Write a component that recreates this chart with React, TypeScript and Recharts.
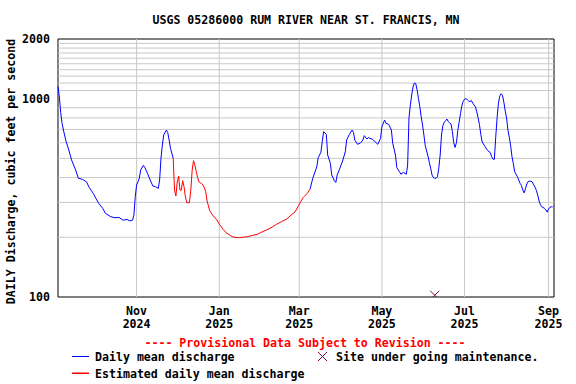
import React from 'react';
import { ComposedChart, Line, Scatter, XAxis, YAxis, ReferenceLine, ReferenceArea } from 'recharts';

// day 0 = 2024-09-04
const days = [
  0, 1, 2, 3, 4, 6, 8, 10, 13, 15, 18, 21, 23, 26, 28, 30, 33, 35, 39, 42, 45, 48, 51, 53, 55, 56, 57, 58, 59, 60,
  61, 63, 64, 66, 68, 70, 72, 74, 75, 76, 77, 78, 80, 81, 82, 83, 85,
  86, 87, 88, 89, 90, 91, 92, 93, 94, 95, 96, 97, 98, 99, 100, 101, 102, 103, 104, 105, 106, 107, 108, 109, 110,
  112, 114, 117, 119, 122, 124, 127, 129, 133, 136, 139, 143, 147, 150, 154, 158, 161, 165, 169, 172, 175, 177,
  179, 181, 182, 184, 186,
  188, 191, 192, 194, 195, 196, 198, 199, 201, 202, 204, 205, 206, 208, 210, 212, 213, 215, 217, 218, 219, 221,
  223, 225, 226, 228, 229, 232, 234, 236, 238, 239, 241, 242, 244, 246, 247, 249, 250, 252, 253, 255, 257, 258,
  259, 260, 261, 262, 263, 264, 265, 266, 267, 268, 269, 270, 271, 272, 273, 274, 275, 276, 277, 278, 279, 280,
  281, 282, 283, 284, 285, 286, 287, 288, 289, 290, 291, 292, 293, 294, 295, 296, 297, 298, 299, 300, 301, 302,
  303, 304, 305, 306, 307, 308, 309, 310, 311, 312, 313, 315, 317, 319, 320, 321, 322, 323, 324, 325, 326, 327,
  328, 329, 330, 331, 332, 333, 334, 335, 336, 337, 339, 341, 342, 343, 344, 345, 346, 347, 349, 350, 351, 352,
  353, 354, 355, 356, 357, 359, 360, 361, 362, 363, 364, 365,
];

const flow = [
  1150, 1020, 850, 751, 695, 607, 551, 491, 437, 397, 392, 381, 357, 333, 314, 297, 280, 264, 254, 251, 252, 244, 246, 242, 244, 259, 320, 367, 381, 397,
  437, 461, 451, 421, 389, 363, 360, 353, 389, 501, 584, 656, 695, 674, 619, 562, 501,
  346, 323, 381, 407, 346, 346, 386, 360, 320, 299, 299, 299, 346, 437, 487, 463, 430, 400, 381, 376, 374, 367, 355, 340, 305,
  272, 259, 246, 233, 219, 211, 205, 201, 199, 200, 201, 204, 207, 212, 218, 225, 232, 240, 248, 259, 269, 285,
  302, 318, 323, 333, 350,
  397, 454, 504, 537, 607, 682, 661, 520, 472, 412, 385, 378, 412, 446, 485, 540, 619, 661, 695, 677, 619, 589,
  596, 619, 651, 626, 636, 624, 607, 589, 631, 722, 781, 751, 743, 695, 596, 520, 449, 428, 416, 425, 416, 463,
  800, 930, 1044, 1149, 1200, 1190, 1106, 1000, 911, 811, 737, 656, 580, 545, 514, 477, 446, 412, 400, 397, 397, 404,
  446, 520, 656, 730, 760, 775, 790, 766, 755, 745, 682, 600, 568, 600, 690, 760, 840, 920, 970, 995, 1000, 990,
  975, 966, 980, 950, 930, 911, 860, 800, 740, 660, 605, 575, 548, 535, 510, 495, 495, 640, 800, 950, 1030, 1060,
  1040, 960, 870, 800, 695, 640, 580, 510, 470, 428, 404, 374, 365, 345, 335, 353, 372, 383, 384, 380, 368, 358,
  345, 326, 305, 292, 285, 280, 275, 268, 278, 283, 285, 285,
];

// estimated (red) stretch
const estStart = 85;
const estEnd = 186;

const maintenance = [{ day: 278, v: 102 }];

const tickDays = [58, 119, 178, 239, 300, 362];
const tickMonths = ['Nov', 'Jan', 'Mar', 'May', 'Jul', 'Sep'];
const tickYears = ['2024', '2025', '2025', '2025', '2025', '2025'];
const yTicks = [100, 1000, 2000];
const yGrid = [200, 300, 400, 500, 600, 700, 800, 900, 1100, 1200, 1300, 1400, 1500, 1600, 1700, 1800, 1900];

const data = days.map((d, i) => ({
  day: d,
  blue: d <= estStart || d >= estEnd ? flow[i] : null,
  red: d >= estStart && d <= estEnd ? flow[i] : null,
}));

const FONT = '"DejaVu Sans Mono", monospace';
const textStyle = { fontFamily: FONT, fontSize: 11.6, fontWeight: 'bold' as const };

const XTick = (props: any) => {
  const { x, y, payload } = props;
  const i = tickDays.indexOf(payload.value);
  return (
    <text x={x} y={y} textAnchor="middle" fill="#000" style={textStyle}>
      <tspan x={x} dy={17.5}>{tickMonths[i]}</tspan>
      <tspan x={x} dy={13}>{tickYears[i]}</tspan>
    </text>
  );
};

const YTick = (props: any) => {
  const { x, y, payload } = props;
  return (
    <text x={x - 8} y={y + 4} textAnchor="end" fill="#000" style={textStyle}>
      {payload.value}
    </text>
  );
};

const XMark = (props: any) => {
  const { cx, cy } = props;
  return (
    <g stroke="#800040" strokeWidth={1}>
      <line x1={cx - 4.5} y1={cy - 4.5} x2={cx + 4.5} y2={cy + 4.5} />
      <line x1={cx - 4.5} y1={cy + 4.5} x2={cx + 4.5} y2={cy - 4.5} />
    </g>
  );
};

const App: React.FC = () => {
  return (
    <div style={{ position: 'absolute', left: 0, top: 0, width: 576, height: 384, background: '#fff' }}>
      <ComposedChart width={576} height={384} data={data} margin={{ top: 39, right: 22, left: 18, bottom: 47 }}>
        <XAxis
          dataKey="day"
          type="number"
          domain={[0, 366]}
          ticks={tickDays}
          tick={<XTick />}
          tickLine={false}
          axisLine={false}
          tickSize={0}
          tickMargin={0}
          height={40}
          interval={0}
        />
        <YAxis
          type="number"
          scale="log"
          domain={[100, 2000]}
          ticks={yTicks}
          tick={<YTick />}
          tickLine={false}
          axisLine={false}
          tickSize={0}
          tickMargin={0}
          width={40}
          allowDataOverflow
          interval={0}
        />
        {yGrid.map((v) => (
          <ReferenceLine key={'h' + v} y={v} stroke="#c8c8c8" strokeWidth={1} />
        ))}
        {tickDays.map((d) => (
          <ReferenceLine key={'v' + d} x={d} stroke="#c8c8c8" strokeWidth={1} />
        ))}
        <Line type="linear" dataKey="blue" stroke="#0000ff" strokeWidth={1} dot={false} isAnimationActive={false} />
        <Line type="linear" dataKey="red" stroke="#ff0000" strokeWidth={1} dot={false} isAnimationActive={false} />
        <Scatter data={maintenance} dataKey="v" shape={<XMark />} isAnimationActive={false} />
        <ReferenceArea x1={0} x2={366} y1={100} y2={2000} fill="none" stroke="#000" strokeWidth={1} fillOpacity={0} />
      </ComposedChart>
      <svg
        width={576}
        height={384}
        style={{ position: 'absolute', left: 0, top: 0, pointerEvents: 'none' }}
      >
        <text x={306} y={23.5} textAnchor="middle" fill="#000" style={textStyle}>
          USGS 05286000 RUM RIVER NEAR ST. FRANCIS, MN
        </text>
        <text x={15} y={171.5} textAnchor="middle" fill="#000" style={textStyle} transform="rotate(-90 15 171.5)">
          DAILY Discharge, cubic feet per second
        </text>
        <text x={305} y={346.5} textAnchor="middle" fill="#ff0000" style={textStyle}>
          ---- Provisional Data Subject to Revision ----
        </text>
        <rect x={72} y={356} width={17} height={1} fill="#0000ff" />
        <text x={95} y={361} fill="#000" style={textStyle}>Daily mean discharge</text>
        <rect x={72} y={372.5} width={17} height={1.5} fill="#ff0000" />
        <text x={95} y={378} fill="#000" style={textStyle}>Estimated daily mean discharge</text>
        <g stroke="#800040" strokeWidth={1}>
          <line x1={318} y1={352} x2={327} y2={361} />
          <line x1={318} y1={361} x2={327} y2={352} />
        </g>
        <text x={336} y={361} fill="#000" style={textStyle}>Site under going maintenance.</text>
      </svg>
    </div>
  );
};

export default App;
